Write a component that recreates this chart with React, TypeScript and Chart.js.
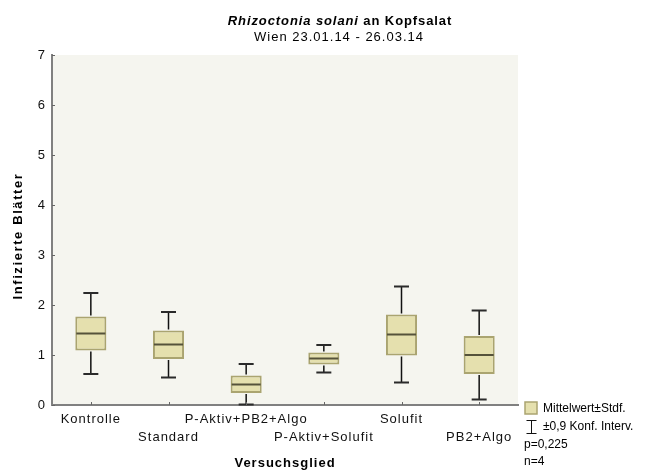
import { useEffect, useRef } from 'react';
import { Chart, registerables } from 'chart.js';

Chart.register(...registerables);

const categories = ['Kontrolle', 'Standard', 'P-Aktiv+PB2+Algo', 'P-Aktiv+Solufit', 'Solufit', 'PB2+Algo'];
const means = [1.43, 1.21, 0.41, 0.93, 1.41, 1.0];
const sdLow = [1.09, 0.92, 0.24, 0.81, 0.99, 0.62];
const sdHigh = [1.77, 1.49, 0.59, 1.05, 1.81, 1.38];
const ciLow = [0.62, 0.55, 0.01, 0.65, 0.45, 0.11];
const ciHigh = [2.24, 1.86, 0.82, 1.2, 2.37, 1.89];
const yTickValues = [0, 1, 2, 3, 4, 5, 6, 7];

const titleItalic = 'Rhizoctonia solani';
const titleRest = ' an Kopfsalat';
const subtitle = 'Wien 23.01.14 - 26.03.14';
const yTitle = 'Infizierte Blätter';
const xTitle = 'Versuchsglied';
const legendLabels = ['Mittelwert±Stdf.', '±0,9 Konf. Interv.', 'p=0,225', 'n=4'];

const FONT = "'Liberation Sans', Arial, sans-serif";
const BOX_FILL = '#e5e0ae';
const BOX_BORDER = '#aaa470';
const PLOT_BG = '#f5f5ef';

const boxPlugin = {
  id: 'boxPlugin',
  beforeDraw(chart: any) {
    const { ctx, chartArea } = chart;
    ctx.save();
    ctx.fillStyle = PLOT_BG;
    ctx.fillRect(chartArea.left, chartArea.top, chartArea.right - chartArea.left, chartArea.bottom - chartArea.top);
    ctx.restore();
    ctx.letterSpacing = '1px';
  },
  afterDatasetsDraw(chart: any) {
    const { ctx, chartArea } = chart;
    const ys = chart.scales.y;
    const xs = chart.scales.x;
    const meta = chart.getDatasetMeta(0);
    ctx.save();
    meta.data.forEach((bar: any, i: number) => {
      const x = bar.x;
      const w = bar.width;
      ctx.strokeStyle = '#111';
      ctx.lineWidth = 1.5;
      ctx.beginPath();
      ctx.moveTo(x, ys.getPixelForValue(sdHigh[i]) - 1);
      ctx.lineTo(x, ys.getPixelForValue(ciHigh[i]));
      ctx.moveTo(x, ys.getPixelForValue(sdLow[i]) + 1);
      ctx.lineTo(x, ys.getPixelForValue(ciLow[i]));
      ctx.stroke();
      ctx.strokeStyle = '#2a2a2a';
      ctx.lineWidth = 2;
      ctx.beginPath();
      ctx.moveTo(x - 7.5, ys.getPixelForValue(ciHigh[i]));
      ctx.lineTo(x + 7.5, ys.getPixelForValue(ciHigh[i]));
      ctx.moveTo(x - 7.5, ys.getPixelForValue(ciLow[i]));
      ctx.lineTo(x + 7.5, ys.getPixelForValue(ciLow[i]));
      ctx.stroke();
      ctx.strokeStyle = '#55523a';
      ctx.lineWidth = 2;
      ctx.beginPath();
      ctx.moveTo(x - w / 2 + 1, ys.getPixelForValue(means[i]));
      ctx.lineTo(x + w / 2 - 1, ys.getPixelForValue(means[i]));
      ctx.stroke();
    });
    ctx.strokeStyle = '#666';
    ctx.lineWidth = 1;
    ctx.beginPath();
    yTickValues.forEach((v) => {
      const py = Math.round(ys.getPixelForValue(v)) + 0.5;
      ctx.moveTo(chartArea.left, py);
      ctx.lineTo(chartArea.left + 3, py);
    });
    categories.forEach((_, i) => {
      const px = Math.round(xs.getPixelForValue(i)) + 0.5;
      ctx.moveTo(px, chartArea.bottom);
      ctx.lineTo(px, chartArea.bottom - 3);
    });
    ctx.stroke();
    ctx.restore();
  },
  afterDraw(chart: any) {
    const { ctx, chartArea } = chart;
    ctx.save();
    ctx.fillStyle = '#000';
    ctx.textBaseline = 'alphabetic';
    ctx.textAlign = 'left';
    ctx.letterSpacing = '0.9px';
    ctx.font = `italic bold 13px ${FONT}`;
    const w1 = ctx.measureText(titleItalic).width;
    ctx.font = `bold 13px ${FONT}`;
    const w2 = ctx.measureText(titleRest).width;
    const tx = 340 - (w1 + w2) / 2;
    ctx.font = `italic bold 13px ${FONT}`;
    ctx.fillText(titleItalic, tx, 25);
    ctx.font = `bold 13px ${FONT}`;
    ctx.fillText(titleRest, tx + w1, 25);
    ctx.letterSpacing = '1px';
    ctx.font = `13px ${FONT}`;
    ctx.textAlign = 'center';
    ctx.fillText(subtitle, 339, 41);
    ctx.font = `bold 13px ${FONT}`;
    ctx.fillText(xTitle, (chartArea.left + chartArea.right) / 2, 467);
    ctx.save();
    ctx.letterSpacing = '1.6px';
    ctx.translate(22, 236);
    ctx.rotate(-Math.PI / 2);
    ctx.textAlign = 'center';
    ctx.fillText(yTitle, 0, 0);
    ctx.restore();
    ctx.letterSpacing = '0px';
    ctx.font = `12px ${FONT}`;
    ctx.textAlign = 'left';
    ctx.textBaseline = 'middle';
    ctx.fillStyle = BOX_FILL;
    ctx.fillRect(525, 402, 12, 12);
    ctx.strokeStyle = BOX_BORDER;
    ctx.lineWidth = 1.5;
    ctx.strokeRect(525, 402, 12, 12);
    ctx.fillStyle = '#000';
    ctx.fillText(legendLabels[0], 543, 409);
    ctx.strokeStyle = '#111';
    ctx.lineWidth = 1;
    ctx.beginPath();
    ctx.moveTo(526.5, 420.5);
    ctx.lineTo(536.5, 420.5);
    ctx.moveTo(531.5, 420.5);
    ctx.lineTo(531.5, 433.5);
    ctx.moveTo(526.5, 433.5);
    ctx.lineTo(536.5, 433.5);
    ctx.stroke();
    ctx.fillText(legendLabels[1], 543, 427);
    ctx.fillText(legendLabels[2], 524, 445);
    ctx.fillText(legendLabels[3], 524, 462);
    ctx.restore();
  },
};

export default function App() {
  const canvasRef = useRef<HTMLCanvasElement | null>(null);

  useEffect(() => {
    const canvas = canvasRef.current;
    if (!canvas) return;
    const chart = new Chart(canvas, {
      type: 'bar',
      data: {
        labels: categories.map((c, i) => (i % 2 === 1 ? ['', c] : c)),
        datasets: [
          {
            label: legendLabels[0],
            data: categories.map((_, i) => [sdLow[i], sdHigh[i]]),
            backgroundColor: BOX_FILL,
            borderColor: BOX_BORDER,
            borderWidth: 2,
            borderSkipped: false,
            barPercentage: 0.4,
            categoryPercentage: 1,
          } as any,
        ],
      },
      options: {
        animation: false,
        responsive: false,
        devicePixelRatio: 1,
        events: [],
        layout: { padding: { left: 0, top: 55, right: 139, bottom: 0 } },
        plugins: {
          legend: { display: false },
          title: { display: false },
          tooltip: { enabled: false },
        },
        scales: {
          x: {
            type: 'category',
            offset: true,
            grid: { display: false, drawTicks: false },
            border: { display: true, color: '#808080', width: 2 },
            ticks: {
              autoSkip: false,
              maxRotation: 0,
              minRotation: 0,
              padding: 5,
              color: '#111',
              font: { family: FONT, size: 13, lineHeight: 18 / 13 },
            },
            afterFit: (scale: any) => {
              scale.height = 65;
            },
          },
          y: {
            type: 'linear',
            min: 0,
            max: 7,
            grid: { display: false, drawTicks: false },
            border: { display: true, color: '#808080', width: 2 },
            ticks: {
              stepSize: 1,
              padding: 6,
              color: '#111',
              font: { family: FONT, size: 13 },
            },
            afterFit: (scale: any) => {
              scale.width = 52;
            },
          },
        },
      } as any,
      plugins: [boxPlugin],
    });
    return () => chart.destroy();
  }, []);

  return (
    <div style={{ position: 'fixed', left: 0, top: 0, width: 657, height: 470, background: '#fff' }}>
      <canvas ref={canvasRef} width={657} height={470} style={{ display: 'block' }} />
    </div>
  );
}
